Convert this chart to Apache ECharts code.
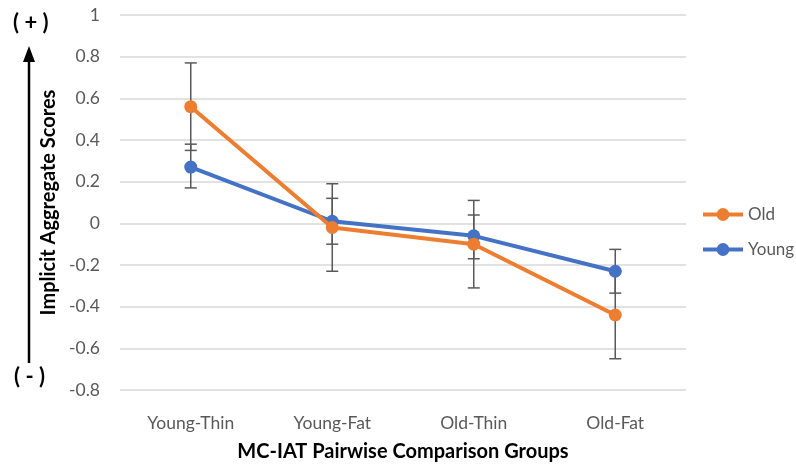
<!DOCTYPE html>
<html>
<head>
<meta charset="utf-8">
<script src="https://cdn.jsdelivr.net/npm/echarts@6/dist/echarts.min.js"></script>
<style>
  html, body { margin: 0; padding: 0; background: #fff; }
  #main { width: 796px; height: 465px; }
</style>
</head>
<body>
<div id="main"></div>
<script>
// categories and values
const categories = ['Young-Thin', 'Young-Fat', 'Old-Thin', 'Old-Fat'];
const oldScores = [0.56, -0.02, -0.10, -0.44];
const youngScores = [0.27, 0.01, -0.06, -0.23];
// error bar ends
const oldLow = [0.35, -0.23, -0.31, -0.65];
const oldHigh = [0.77, 0.19, 0.11, -0.23];
const youngLow = [0.17, -0.10, -0.17, -0.335];
const youngHigh = [0.38, 0.12, 0.04, -0.125];

const FONT = 'Lato';
const chart = echarts.init(document.getElementById('main'));

function errorData(low, high) {
  return categories.map(function (c, i) { return [i, low[i], high[i]]; });
}

// 误差线
function renderErrorBar(params, api) {
  const x = api.value(0);
  const top = api.coord([x, api.value(2)]);
  const bottom = api.coord([x, api.value(1)]);
  const half = 6;
  const style = { stroke: '#595959', lineWidth: 1.5 };
  return {
    type: 'group',
    children: [
      { type: 'line', shape: { x1: top[0], y1: top[1], x2: bottom[0], y2: bottom[1] }, style: style },
      { type: 'line', shape: { x1: top[0] - half, y1: top[1], x2: top[0] + half, y2: top[1] }, style: style },
      { type: 'line', shape: { x1: bottom[0] - half, y1: bottom[1], x2: bottom[0] + half, y2: bottom[1] }, style: style }
    ]
  };
}

const option = {
  backgroundColor: '#fff',
  textStyle: { fontFamily: FONT },
  animation: false,
  grid: { left: 120, right: 110, top: 15, bottom: 75, outerBoundsMode: 'none' },
  legend: {
    orient: 'vertical',
    left: 696,
    top: 201,
    itemWidth: 40,
    itemHeight: 16,
    itemGap: 18,
    data: ['Old', 'Young'],
    lineStyle: { width: 4 },
    textStyle: { color: '#595959', fontSize: 17, fontFamily: FONT }
  },
  xAxis: {
    type: 'category',
    data: categories,
    boundaryGap: true,
    axisTick: { show: false },
    axisLine: { show: false },
    axisLabel: { color: '#595959', fontSize: 17.5, margin: 24 },
    name: 'MC-IAT Pairwise Comparison Groups',
    nameLocation: 'middle',
    nameGap: 52,
    nameTextStyle: { color: '#000', fontSize: 20, fontWeight: 'bold' }
  },
  yAxis: {
    type: 'value',
    min: -0.8,
    max: 1,
    interval: 0.2,
    axisLine: { show: false },
    axisTick: { show: false },
    axisLabel: { color: '#595959', fontSize: 17.5, margin: 20 },
    splitLine: { lineStyle: { color: '#d9d9d9', width: 1.5 } },
    name: 'Implicit Aggregate Scores',
    nameLocation: 'middle',
    nameGap: 60,
    nameTextStyle: { color: '#000', fontSize: 20, fontWeight: 'bold' }
  },
  graphic: [
    { type: 'line', shape: { x1: 29, y1: 363, x2: 29, y2: 58 }, style: { stroke: '#000', lineWidth: 2.5 } },
    { type: 'polygon', shape: { points: [[23, 62], [35, 62], [29, 46]] }, style: { fill: '#000' } },
    { type: 'text', left: 13, top: 12, style: { text: '( + )', font: 'bold 22px ' + FONT, fill: '#000' } },
    { type: 'text', left: 14, top: 366, style: { text: '( - )', font: 'bold 22px ' + FONT, fill: '#000' } }
  ],
  series: [
    {
      name: 'Old',
      type: 'line',
      data: oldScores,
      z: 4,
      symbol: 'circle',
      symbolSize: 13,
      itemStyle: { color: '#ed7d31' },
      lineStyle: { color: '#ed7d31', width: 4 }
    },
    {
      name: 'Young',
      type: 'line',
      data: youngScores,
      z: 3,
      symbol: 'circle',
      symbolSize: 13,
      itemStyle: { color: '#4472c4' },
      lineStyle: { color: '#4472c4', width: 4 }
    },
    {
      name: 'Old error',
      type: 'custom',
      z: 2,
      renderItem: renderErrorBar,
      encode: { x: 0, y: [1, 2] },
      data: errorData(oldLow, oldHigh),
      silent: true
    },
    {
      name: 'Young error',
      type: 'custom',
      z: 2,
      renderItem: renderErrorBar,
      encode: { x: 0, y: [1, 2] },
      data: errorData(youngLow, youngHigh),
      silent: true
    }
  ]
};

chart.setOption(option);
</script>
</body>
</html>
